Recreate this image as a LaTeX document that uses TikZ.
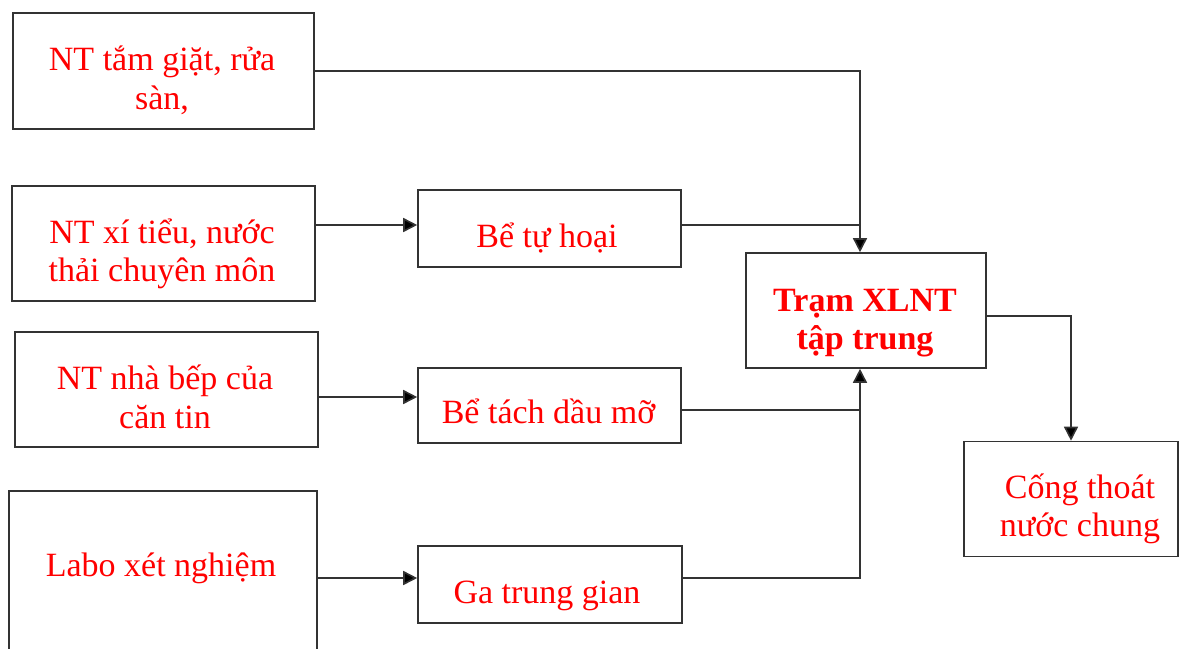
\documentclass[tikz,border=0pt]{standalone}
\usepackage{fontspec}
\setmainfont{Liberation Serif}
\usetikzlibrary{arrows.meta}
\definecolor{ln}{HTML}{333333}
\tikzset{
  box/.style={draw=ln, line width=0.8pt, fill=none, inner sep=0pt},
  lbl/.style={text=red, anchor=base, inner sep=0pt, font=\fontsize{17}{20}\selectfont},
  blbl/.style={lbl, font=\fontsize{17}{20}\selectfont\bfseries},
  conn/.style={draw=ln, line width=0.8pt},
  arr/.style={conn, -{Triangle[length=7pt,width=7pt,fill=black]}}
}
\begin{document}
\begin{tikzpicture}[x=0.5pt,y=-0.5pt]
\clip (0,0) rectangle (1183,648);
% boxes
\node[box, minimum width=150.5pt, minimum height=58pt] (b1) at (163.5,71) {};
\node[box, minimum width=151.5pt, minimum height=57.5pt] (b2) at (163.5,243.5) {};
\node[box, minimum width=151.5pt, minimum height=57.5pt] (b3) at (166.5,389.5) {};
\node[box, minimum width=154pt, minimum height=90pt] (b4) at (163,581) {};
\node[box, minimum width=131.5pt, minimum height=38.5pt] (bt) at (549.5,228.5) {};
\node[box, minimum width=131.5pt, minimum height=37.5pt] (btd) at (549.5,405.5) {};
\node[box, minimum width=132pt, minimum height=38.5pt] (ga) at (550,584.5) {};
\node[box, minimum width=120pt, minimum height=57.5pt] (tram) at (866,310.5) {};
\node[box, minimum width=107pt, minimum height=57.5pt] (cong) at (1071,499) {};
% labels
\node[lbl] (t1a) at (162,70) {NT tắm giặt, rửa};
\node[lbl] (t1b) at (162,109) {sàn,};
\node[lbl] (t2a) at (162,243) {NT xí tiểu, nước};
\node[lbl] (t2b) at (162,281) {thải chuyên môn};
\node[lbl] (t3a) at (165,389) {NT nhà bếp của};
\node[lbl] (t3b) at (165,428) {căn tin};
\node[lbl] (t4) at (161,576) {Labo xét nghiệm};
\node[lbl] (t5) at (547,247) {Bể tự hoại};
\node[lbl] (t6) at (548.5,423) {Bể tách dầu mỡ};
\node[lbl] (t7) at (547,603) {Ga trung gian};
\node[blbl] (t8a) at (865,311) {Trạm XLNT};
\node[blbl] (t8b) at (865,349) {tập trung};
\node[lbl] (t9a) at (1080,498) {Cống thoát};
\node[lbl] (t9b) at (1080,536) {nước chung};
% junction coordinates
\coordinate (jx) at (860,0);
\coordinate (y1) at (0,225);
\coordinate (y2) at (0,397);
\coordinate (y3) at (0,410);
\coordinate (y4) at (0,578);
\coordinate (y5) at (0,316);
% connectors
\draw[arr] (b1.east) -- (jx |- b1.east) -- (jx |- tram.north);
\draw[arr] (b2.east |- y1) -- (bt.west |- y1);
\draw[conn] (bt.east |- y1) -- (jx |- y1);
\draw[arr] (b3.east |- y2) -- (btd.west |- y2);
\draw[conn] (btd.east |- y3) -- (jx |- y3);
\draw[arr] (b4.east |- y4) -- (ga.west |- y4);
\draw[arr] (ga.east |- y4) -- (jx |- y4) -- (jx |- tram.south);
\draw[arr] (tram.east |- y5) -- (cong.north |- y5) -- (cong.north);
\end{tikzpicture}
\end{document}
